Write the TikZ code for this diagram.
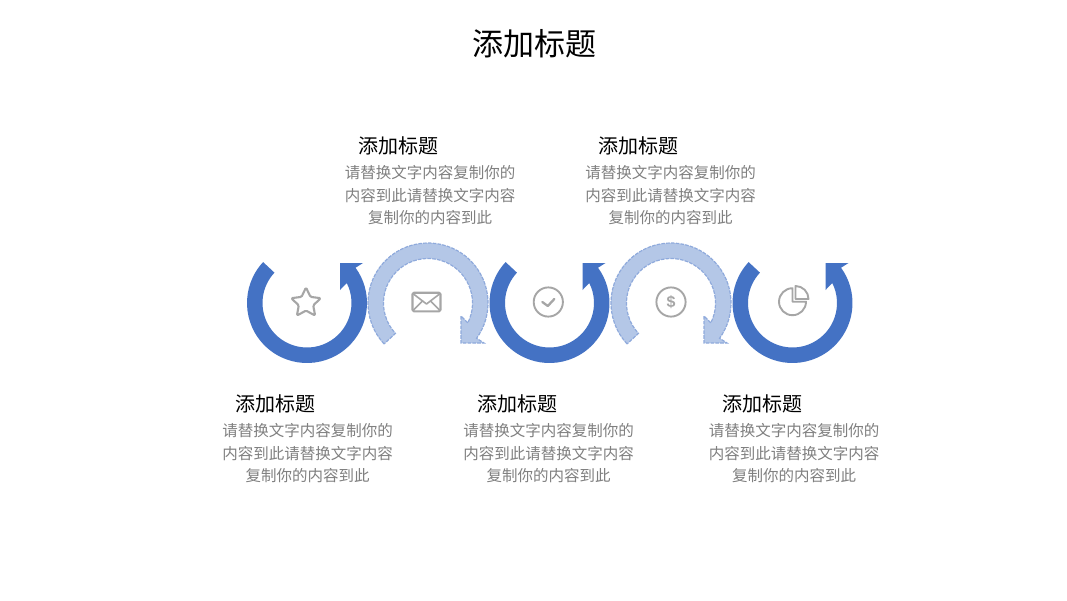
\documentclass[tikz,border=0pt]{standalone}
\usepackage{fontspec}
\setmainfont{Noto Sans CJK SC}
\newfontfamily\dollarfont{Liberation Sans}
\definecolor{blueA}{HTML}{4472C4}
\definecolor{blueB}{HTML}{B4C7E7}
\definecolor{blueL}{HTML}{8FAADC}
\definecolor{iconG}{HTML}{A6A6A6}
\definecolor{txtG}{HTML}{808080}
\tikzset{
  x=1pt,y=1pt,
  turn/.pic={
    \path[pic actions] (137:60) arc[start angle=137,end angle=396,radius=60]
      -- (56,40) -- (33,40) -- (33,13)
      -- (386.6:44.5) arc[start angle=386.6,end angle=137,radius=44.5] -- cycle;
  },
  solidturn/.style={fill=blueA,draw=none},
  dashturn/.style={yscale=-1,fill=blueB,draw=blueL,line width=1.2pt,dash pattern=on 3.6pt off 1.2pt},
  icon/.style={draw=iconG,line width=2.1pt,line join=round,line cap=round},
  titletext/.style={font=\fontsize{31}{36}\selectfont,text=black,inner sep=0pt},
  headtext/.style={font=\fontsize{20}{24}\selectfont,text=black,inner sep=0pt},
  bodytext/.style={font=\fontsize{15.5}{22.5}\selectfont,text=txtG,align=center,inner sep=0pt},
}
\begin{document}
\begin{tikzpicture}
\useasboundingbox[fill=white] (0,0) rectangle (1067,-600);
% arrows
\pic[solidturn] at (307,-303) {turn};
\pic[dashturn] at (428,-303) {turn};
\pic[solidturn] at (549.5,-303) {turn};
\pic[dashturn] at (671,-303) {turn};
\pic[solidturn] at (792.5,-303) {turn};
% star
\begin{scope}[shift={(306,-303)}]
\draw[icon,rounded corners=1.2pt] (90:15.5) -- (126:7.6) -- (162:15.5) -- (198:7.6) -- (234:15.5) -- (270:7.6) -- (306:15.5) -- (342:7.6) -- (18:15.5) -- (54:7.6) -- cycle;
\end{scope}
% envelope
\begin{scope}[shift={(426.5,-302)}]
\draw[icon,rounded corners=1.5pt] (-14,-9.3) rectangle (14,9.3);
\draw[icon,line width=1.6pt] (-13,8) -- (0,-2) -- (13,8);
\draw[icon,line width=1.6pt] (-13,-8) -- (-4,1);
\draw[icon,line width=1.6pt] (13,-8) -- (4,1);
\end{scope}
% check
\begin{scope}[shift={(548.3,-302)}]
\draw[icon,line width=1.9pt] (0,0) circle[radius=14.6];
\draw[icon,line width=2.3pt] (-6,0) -- (-0.5,-4) -- (6,3);
\end{scope}
% dollar
\begin{scope}[shift={(671,-302)}]
\draw[icon,line width=1.9pt] (0,0) circle[radius=14.6];
\node[inner sep=0pt,text=iconG,font=\dollarfont\bfseries\fontsize{16}{16}\selectfont] (dollar) at (0,0) {\$};
\end{scope}
% pie
\begin{scope}[shift={(792.5,-301.7)}]
\draw[icon,line width=1.9pt] (0,13.5) arc[start angle=90,end angle=360,radius=13.5] -- (0,0) -- cycle;
\draw[icon,line width=1.9pt] (3,15.7) arc[start angle=90,end angle=0,radius=13] -- (3,2.7) -- cycle;
\end{scope}
% text
\node[titletext] (title) at (534.5,-44) {添加标题};
\node[headtext] (h2) at (398,-146) {添加标题};
\node[bodytext] (b2) at (430,-195.5) {请替换文字内容复制你的\\内容到此请替换文字内容\\复制你的内容到此};
\node[headtext] (h4) at (638.5,-146) {添加标题};
\node[bodytext] (b4) at (670.5,-195.5) {请替换文字内容复制你的\\内容到此请替换文字内容\\复制你的内容到此};
\node[headtext] (h1) at (275.5,-404) {添加标题};
\node[bodytext] (b1) at (307.5,-453.5) {请替换文字内容复制你的\\内容到此请替换文字内容\\复制你的内容到此};
\node[headtext] (h3) at (517,-404) {添加标题};
\node[bodytext] (b3) at (548.5,-453.5) {请替换文字内容复制你的\\内容到此请替换文字内容\\复制你的内容到此};
\node[headtext] (h5) at (762,-404) {添加标题};
\node[bodytext] (b5) at (794,-453.5) {请替换文字内容复制你的\\内容到此请替换文字内容\\复制你的内容到此};
\end{tikzpicture}
\end{document}
